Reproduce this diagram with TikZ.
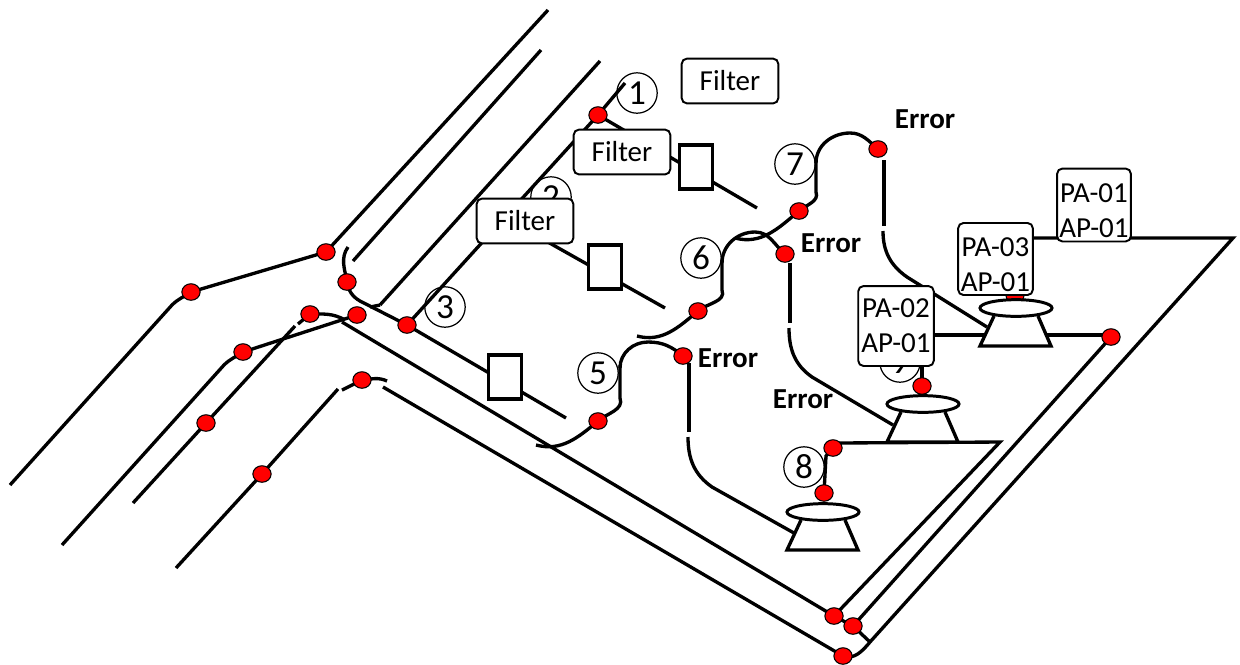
\documentclass[tikz,border=0pt]{standalone}
\usepackage{fontspec}
\setmainfont{Carlito}
\usetikzlibrary{shapes.geometric}
\definecolor{dotc}{RGB}{255,0,0}

\begin{document}
\begin{tikzpicture}[x=0.02cm, y=-0.02cm,
  pipe/.style={line width=1.9pt},
  dot/.style={draw, line width=0.6pt, fill=dotc, ellipse, minimum width=10.4pt, minimum height=9.4pt, inner sep=0pt},
  tag/.style={draw, line width=1.1pt, rounded corners=3pt, fill=white, inner sep=0pt, align=center, font=\fontsize{16.5}{20}\selectfont},
  num/.style={draw, line width=0.7pt, circle, minimum size=23pt, inner sep=0pt, font=\fontsize{20}{20}\selectfont},
  err/.style={font=\fontsize{16.5}{16.5}\selectfont\bfseries},
  valve/.style={draw, line width=1.9pt, fill=white, minimum width=19pt, minimum height=25pt, inner sep=0pt}]
  \useasboundingbox (0,0) rectangle (1240,664);
  % free ends of the pipes
  \foreach \n/\x/\y in {l1/10/485, l2/62/545, l3/133/503, l4/176/568, r1/548/10, r2/541/50, r2a/353/261, r3/600/61, r3a/380/305,
    r4/625/83, cornera/1000/442, cornerb/1233/238, cornerc/870/642, endg/566/418, endb/665/308, startb/530/232, endd/757/208} {
    \coordinate (\n) at (\x,\y);
  }
  % red points
  \foreach \n/\x/\y in {a/326/252, b/191/292, c/347/282, e/310/314, f/357/315, g/407/325, h/243/352, i/206/423, j/262/474, k/362/380,
    d/598/115, m/799/211, n/785/254, o/698/311, p/878/149, q/1111/337, r/922/386, s/833/448, t/1015/295,
    u/683/356, v/598/421, w/824/493, x/834/616, y/853/626, z/843/656} {
    \coordinate (\n) at (\x,\y);
  }
  \begin{scope}[pipe]
    % left side
    \draw (l1) -- (172,305) to[out=45,in=215] (b);
    \draw (b) -- (a) -- (r1);
    \draw (l2) -- (224,365) to[out=45,in=215] (h);
    \draw (h) -- (f);
    \draw (l3) -- (i) -- (295,326);
    \draw (298,324) -- (e);
    \draw (e) to[out=0,in=150] (345,320);
    \draw (l4) -- (j) -- (338,389);
    \draw (342,390) -- (k);
    \draw (k) to[out=5,in=155] (387,381);
    % long runs
    \draw (r2a) -- (r2);
    \draw (r3a) -- (r3);
    \draw (370,307) -- (r3a);
    \draw (348,247) to[out=-125,in=100] (c);
    \draw (c) to[out=-80,in=150] (360,301) -- (g) -- (endg);
    \draw (g) -- (d) -- (r4);
    \draw (d) -- (endd);
    \draw (startb) -- (endb);
    \draw (342,322) -- (x) -- (y) -- (cornerc);
    \draw (383,387) -- (z);
    \draw (z) to[out=-20,in=-130] (cornerc) -- (cornerb) -- (1033,238);
    \draw (x) -- (cornera) -- (838,443);
    \draw (y) -- (q);
    \draw (1105,335) -- (934,335);
    \draw (s) -- (826,456) -- (w);
    \draw (r) -- (922,366);
    % lower bend
    \draw (536,445) to[out=-15,in=-140] (v);
    \draw (v) to[out=40,in=-70] (620,398) -- (620,365);
    \draw (620,368) to[out=90,in=180] (648,342) to[out=0,in=140] (u);
    \draw (689,363) -- (689,432);
    \draw (688,437) to[out=-90,in=145] (712,487) -- (794,533);
    % middle bend
    \draw (637,336) to[out=-15,in=-140] (o);
    \draw (o) to[out=40,in=-70] (722,290) -- (722,260);
    \draw (722,263) to[out=90,in=180] (755,232) to[out=0,in=140] (n);
    \draw (790,263) -- (790,323);
    \draw (789,328) to[out=-90,in=145] (812,377) -- (893,425);
    % upper bend
    \draw (735,238) to[out=-15,in=-140] (m);
    \draw (m) to[out=40,in=-70] (816,192) -- (816,160);
    \draw (816,163) to[out=90,in=180] (850,133) to[out=0,in=140] (p);
    \draw (884,160) -- (884,226);
    \draw (883,231) to[out=-90,in=145] (907,277) -- (987,327);
  \end{scope}
  % the dots sit on the same spots as the pipe ends
  \foreach \n in {a,b,c,e,f,g,h,i,j,k,d,m,n,o,p,q,r,s,t,u,v,w,x,y,z} {
    \node[dot] (dot\n) at (\n) {};
  }
  % pumps
  \foreach \n/\x/\y in {pumpa/823/512, pumpb/923/404, pumpc/1016/308} {
    \draw[pipe, fill=white] (\x-22,\y+8) -- (\x-36,\y+38) -- (\x+35,\y+38) -- (\x+22,\y+8);
    \node[draw, line width=1.7pt, ellipse, fill=white, minimum width=41pt, minimum height=9.5pt, inner sep=0pt] (\n) at (\x,\y) {};
  }
  % valves
  \foreach \n/\x/\y in {valvea/696/167, valveb/605/267, valvec/505/377} {
    \node[valve] (\n) at (\x,\y) {};
  }
  % numbers
  \foreach \n/\x/\y/\t in {one/637/93/1, two/551/197/2, three/445/307/3, five/598/373/5, six/701/258/6, seven/795/164/7, eight/804/467/8, nine/900/362/9} {
    \node[num] (\n) at (\x,\y) {\t};
  }
  % labels
  \foreach \n/\x/\y in {filtera/730/81, filterb/622/152, filterc/525/221} {
    \node[tag, minimum width=55pt, minimum height=25.5pt] (\n) at (\x,\y) {Filter};
  }
  \node[tag, minimum width=42pt, minimum height=41.5pt] (paa) at (1094,205) {\rule{0pt}{17pt}PA-01\\AP-01};
  \node[tag, minimum width=42.5pt, minimum height=41pt] (pac) at (995.5,259) {\rule{0pt}{17pt}PA-03\\AP-01};
  \node[tag, minimum width=43pt, minimum height=45.5pt] (pab) at (896,326) {PA-02\\AP-01};
  \foreach \n/\x/\y in {erra/925/119, errb/831/243, errc/728/358, errd/803/399} {
    \node[err] (\n) at (\x,\y) {Error};
  }
\end{tikzpicture}
\end{document}
